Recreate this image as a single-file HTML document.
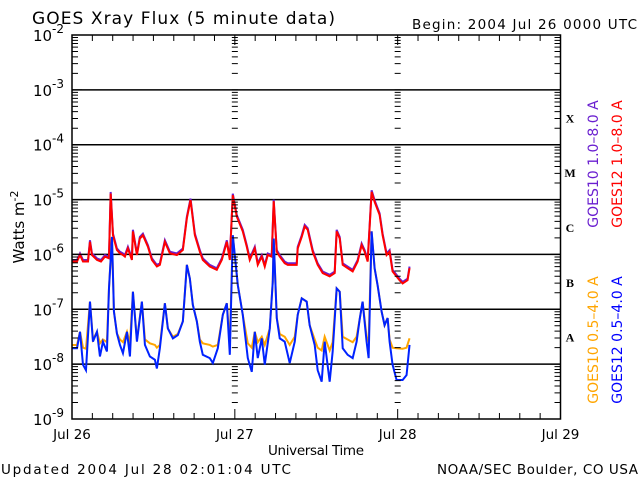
<!DOCTYPE html>
<html><head><meta charset="utf-8"><style>
html,body{margin:0;padding:0;background:#fff;}
svg{display:block;font-family:"DejaVu Sans","Liberation Sans",sans-serif;}
</style></head><body>
<svg width="640" height="480" viewBox="0 0 640 480" xmlns="http://www.w3.org/2000/svg">
<rect width="640" height="480" fill="#fff"/>
<text x="32" y="24" font-size="17" fill="#000" textLength="303" lengthAdjust="spacing">GOES Xray Flux (5 minute data)</text>
<text x="412" y="29" font-size="13.5" fill="#000" textLength="225" lengthAdjust="spacing">Begin:  2004 Jul 26 0000 UTC</text>
<g id="grid"></g>
<g id="series"></g>
<g id="axes"></g>
<text transform="translate(24,227) rotate(-90)" font-size="15" text-anchor="middle" fill="#000">Watts m<tspan dy="-6" font-size="11">-2</tspan></text>
<text x="268" y="455" font-size="13.5" fill="#000" textLength="96" lengthAdjust="spacing">Universal Time</text>
<text x="1" y="474" font-size="13.5" fill="#000" textLength="290" lengthAdjust="spacing">Updated 2004 Jul 28 02:01:04 UTC</text>
<text x="437" y="474" font-size="13.5" fill="#000" textLength="201" lengthAdjust="spacing">NOAA/SEC Boulder, CO USA</text>
<text transform="translate(598,164) rotate(-90)" font-size="14" text-anchor="middle" fill="#6a1fd0">GOES10 1.0–8.0 A</text>
<text transform="translate(622,164) rotate(-90)" font-size="14" text-anchor="middle" fill="#ff0000">GOES12 1.0–8.0 A</text>
<text transform="translate(598,340) rotate(-90)" font-size="14" text-anchor="middle" fill="#ffa500">GOES10 0.5–4.0 A</text>
<text transform="translate(622,340) rotate(-90)" font-size="14" text-anchor="middle" fill="#0000ff">GOES12 0.5–4.0 A</text>
</svg>
<script>
const longHours = [0,0.74,1.18,1.62,2.36,2.65,2.94,3.68,4.27,4.86,5.45,5.70,6.04,6.62,7.07,7.51,7.80,8.24,8.83,8.98,9.57,10.0,10.45,11.19,11.78,12.51,12.95,13.69,14.43,15.46,16.34,16.93,17.47,18.11,18.84,19.28,20.31,21.34,22.08,22.82,23.26,23.70,24.29,25.17,25.76,26.2,26.94,27.38,27.97,28.41,28.85,29.44,29.73,30.18,30.62,31.35,31.8,33.12,33.27,33.86,34.3,34.74,35.48,36.21,36.95,37.98,38.72,39.01,39.46,39.9,40.63,41.37,42.1,42.69,43.13,43.58,44.16,44.6,45.34,45.78,46.37,46.81,47.25,48.28,48.73,49.46,49.75];
const red12 = [-6.13,-6.13,-6.01,-6.13,-6.13,-5.77,-6.01,-6.10,-6.13,-6.04,-6.07,-4.89,-5.65,-5.92,-5.98,-6.01,-6.04,-5.89,-6.10,-5.58,-6.01,-5.71,-5.65,-5.86,-6.10,-6.22,-6.19,-5.77,-5.98,-6.01,-5.92,-5.34,-5.01,-5.65,-5.95,-6.10,-6.22,-6.28,-6.10,-5.77,-6.10,-4.92,-5.31,-5.58,-5.86,-6.10,-5.89,-6.19,-6.04,-6.22,-6.01,-6.04,-5.03,-5.95,-6.04,-6.16,-6.19,-6.19,-5.89,-5.68,-5.49,-5.55,-5.95,-6.19,-6.34,-6.40,-6.34,-5.58,-5.71,-6.19,-6.25,-6.31,-6.13,-5.83,-5.95,-6.13,-4.86,-5.04,-5.28,-5.65,-6.01,-5.95,-6.31,-6.47,-6.53,-6.47,-6.25];
const purple10 = [-6.12,-6.12,-6.00,-6.12,-6.12,-5.76,-6.00,-6.09,-6.12,-6.03,-6.06,-4.88,-5.64,-5.91,-5.97,-6.00,-6.03,-5.88,-6.09,-5.57,-6.00,-5.70,-5.64,-5.85,-6.09,-6.21,-6.18,-5.76,-5.97,-6.00,-5.91,-5.33,-5.00,-5.64,-5.94,-6.09,-6.21,-6.27,-6.09,-5.76,-6.09,-4.91,-5.30,-5.57,-5.85,-6.09,-5.88,-6.18,-6.03,-6.21,-6.00,-6.03,-5.02,-5.94,-6.03,-6.15,-6.18,-6.18,-5.88,-5.67,-5.48,-5.54,-5.94,-6.18,-6.33,-6.39,-6.33,-5.57,-5.70,-6.18,-6.24,-6.30,-6.12,-5.82,-5.94,-6.12,-4.85,-5.03,-5.27,-5.64,-6.00,-5.94,-6.30,-6.46,-6.52,-6.46,-6.24];
const shortHours = [0,0.74,1.18,1.62,2.06,2.65,3.09,3.68,4.12,4.56,5.15,5.45,5.89,6.18,6.62,7.07,7.51,8.1,8.54,8.98,9.57,10.3,10.75,11.48,12.22,12.51,12.95,13.69,14.13,14.87,15.6,16.34,16.93,17.37,17.81,18.4,18.84,19.28,20.31,20.76,21.49,22.23,22.82,23.26,23.7,24.44,25.17,25.91,26.5,26.94,27.38,27.97,28.41,29.15,29.59,29.73,30.18,30.62,31.35,32.09,32.83,33.27,33.86,34.59,35.03,35.77,36.21,36.8,37.24,37.98,38.42,39.01,39.46,39.9,40.63,41.37,41.95,42.39,42.83,43.42,43.72,44.16,44.6,45.04,45.63,46.07,46.52,46.81,47.25,47.84,48.73,49.31,49.75];
const blue12 = [-7.71,-7.71,-7.41,-8.01,-8.11,-6.86,-7.59,-7.41,-7.86,-7.59,-7.77,-6.62,-5.68,-7.04,-7.44,-7.65,-7.80,-7.41,-7.86,-6.68,-7.59,-6.86,-7.65,-7.86,-7.92,-8.08,-7.71,-6.89,-7.35,-7.53,-7.47,-7.22,-6.19,-6.44,-6.92,-7.22,-7.59,-7.83,-7.89,-7.98,-7.71,-7.10,-6.89,-7.83,-5.65,-6.56,-7.10,-7.89,-8.14,-7.41,-7.89,-7.53,-8.01,-7.35,-6.50,-5.71,-7.16,-7.53,-7.59,-7.98,-7.59,-7.10,-6.80,-6.86,-7.29,-7.65,-8.11,-8.32,-7.59,-8.32,-7.77,-6.62,-6.68,-7.71,-7.83,-7.89,-7.59,-7.19,-6.86,-7.59,-7.89,-5.58,-6.25,-6.56,-7.04,-7.29,-7.16,-7.59,-8.01,-8.29,-8.29,-8.20,-7.65];
const orange10 = [-7.65,-7.65,-7.41,-7.70,-7.72,-6.86,-7.55,-7.41,-7.62,-7.55,-7.60,-6.62,-5.68,-7.04,-7.44,-7.55,-7.60,-7.41,-7.62,-6.68,-7.55,-6.86,-7.55,-7.62,-7.65,-7.70,-7.65,-6.89,-7.35,-7.50,-7.45,-7.22,-6.19,-6.44,-6.92,-7.22,-7.55,-7.62,-7.65,-7.68,-7.65,-7.10,-6.89,-7.60,-5.65,-6.56,-7.10,-7.62,-7.70,-7.41,-7.60,-7.50,-7.65,-7.35,-6.50,-5.71,-7.16,-7.45,-7.50,-7.65,-7.50,-7.10,-6.80,-6.86,-7.29,-7.55,-7.70,-7.75,-7.50,-7.75,-7.60,-6.62,-6.68,-7.50,-7.55,-7.60,-7.50,-7.19,-6.86,-7.50,-7.60,-5.58,-6.25,-6.56,-7.04,-7.29,-7.16,-7.55,-7.70,-7.71,-7.72,-7.70,-7.53];
const decadeExps = [-2,-3,-4,-5,-6,-7,-8,-9];
const dayLabels = ["Jul 26","Jul 27","Jul 28","Jul 29"];
const classLabels = ["X","M","C","B","A"];

const L=72, R=560.5, T=35, B=419, HOURS=72;
const xs = h => L + h/HOURS*(R-L);
const ys = lg => T + (-2 - lg)/7*(B-T);
const NS="http://www.w3.org/2000/svg";
function mk(tag, attrs, parent){const e=document.createElementNS(NS,tag);for(const k in attrs)e.setAttribute(k,attrs[k]);parent.appendChild(e);return e;}
const grid=document.getElementById('grid'), axes=document.getElementById('axes'), series=document.getElementById('series');

decadeExps.forEach(ex=>{
  const y=ys(ex);
  if(ex<-2 && ex>-9){
    const gl=mk('line',{x1:L,x2:R,y1:y,y2:y,stroke:'#000','stroke-width':1.5},grid);
    
    
  }
  const t=mk('text',{x:L-8,y:y+6,'font-size':15,'text-anchor':'end',fill:'#000'},axes);
  
  
  t.textContent='10';
  const sp=mk('tspan',{dy:-8,'font-size':12},t); sp.textContent=String(ex);
});
let tk='';
for(let ex=-9;ex<-2;ex++){
  for(let m=1;m<10;m++){
    const y=ys(ex+Math.log10(m));
    const len = m===1?10:6;
    tk+=`M${L},${y}h${len}M${R},${y}h${-len}`;
    [1,2].forEach(d=>{const x=xs(d*24);tk+=`M${x-3},${y}h6`;});
  }
}
for(let h=0;h<=HOURS;h+=3){
  const x=xs(h); const len=(h%24===0)?10:6;
  tk+=`M${x},${B}v${-len}M${x},${T}v${len}`;
}
const tp=mk('path',{d:tk,stroke:'#000','stroke-width':1,fill:'none'},axes);


const fr=mk('rect',{x:L,y:T,width:R-L,height:B-T,fill:'none',stroke:'#000','stroke-width':1.5},axes);


dayLabels.forEach((d,i)=>{
  const t=mk('text',{x:xs(i*24),y:439,'font-size':13.5,'text-anchor':'middle',fill:'#000'},axes);
  
  
  t.textContent=d;
});
classLabels.forEach((c,i)=>{
  const t=mk('text',{x:570,y:ys(-3.5-i)+5,'font-size':12,'font-weight':'bold','font-family':'Liberation Serif, serif','text-anchor':'middle',fill:'#000'},axes);
  
  
  t.textContent=c;
});
function line(hrs,vals,color,name,dy){
  let d='';
  vals.forEach((v,i)=>{const x=xs(hrs[i]),y=ys(v)+dy; d+=(i===0?'M':'L')+x+','+y;});
  const p=mk('path',{d,stroke:color,'stroke-width':2,fill:'none'},series);
  
  
}
line(longHours,purple10,'#6a1fd0','goes10-long-line',-1);
line(longHours,red12,'#ff0000','goes12-long-line',0);
line(shortHours,orange10,'#ffa500','goes10-short-line',0);
line(shortHours,blue12,'#0022ff','goes12-short-line',0);
</script>
</body></html>
